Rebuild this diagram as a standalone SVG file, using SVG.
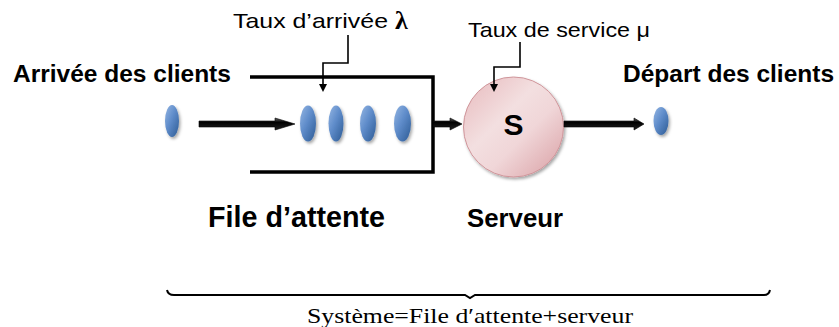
<svg xmlns="http://www.w3.org/2000/svg" width="839" height="327" viewBox="0 0 839 327">
<defs>
<linearGradient id="gEl" x1="0" y1="0" x2="1" y2="1">
<stop offset="0" stop-color="#94b6e3"/>
<stop offset="0.45" stop-color="#5f8cca"/>
<stop offset="1" stop-color="#2c5a94"/>
</linearGradient>
<linearGradient id="gCi" x1="0" y1="0" x2="1" y2="1">
<stop offset="0" stop-color="#e7b9bc"/>
<stop offset="0.4" stop-color="#f3dfe0"/>
<stop offset="0.6" stop-color="#f0d6d8"/>
<stop offset="1" stop-color="#d99ea3"/>
</linearGradient>
<linearGradient id="gAr" x1="0" y1="0" x2="0" y2="1">
<stop offset="0" stop-color="#6a6a6a"/>
<stop offset="0.35" stop-color="#000"/>
<stop offset="1" stop-color="#222"/>
</linearGradient>
<filter id="sh" x="-30%" y="-30%" width="160%" height="160%">
<feDropShadow dx="1.5" dy="2" stdDeviation="1.5" flood-color="#000" flood-opacity="0.35"/>
</filter>
<style>
.lbl{font-family:"Liberation Sans",Arial,sans-serif;fill:#000}
.b{font-weight:bold}
.el{fill:url(#gEl);filter:url(#sh)}
.arr{fill:url(#gAr);stroke:#000;stroke-width:0.6}
.ptr{fill:none;stroke:#000;stroke-width:1.6}
</style>
</defs>
<rect width="839" height="327" fill="#fff"/>

<g id="queue-box">
<path d="M250,77 H433 V172 H250" fill="none" stroke="#000" stroke-width="3.5"/>
</g>

<g id="clients">
<ellipse class="el" cx="172" cy="121" rx="7" ry="16"/>
<ellipse class="el" cx="308" cy="123.5" rx="8" ry="18"/>
<ellipse class="el" cx="336" cy="123.5" rx="7.5" ry="18"/>
<ellipse class="el" cx="368" cy="123.5" rx="8" ry="18"/>
<ellipse class="el" cx="402.5" cy="123.5" rx="8.5" ry="18"/>
<ellipse class="el" cx="661" cy="121" rx="7.5" ry="14"/>
</g>

<g id="server">
<circle cx="513.5" cy="127" r="50" fill="url(#gCi)" stroke="#cf959a" stroke-width="1" filter="url(#sh)"/>
<text class="lbl b" x="513.5" y="135" font-size="30" text-anchor="middle">S</text>
</g>

<g id="connectors">
<path class="arr" d="M199,121 H275 V118 L295,124 L275,130 V127 H199 Z"/>
<path class="arr" d="M433,121 H450 V118 L462,124 L450,130 V127 H433 Z"/>
<path class="arr" d="M564,121 H634 V118 L644,124 L634,130 V127 H564 Z"/>
<path class="ptr" d="M348,35 V63 H323 V90"/>
<path d="M319,84 L327,84 L323,92 Z" fill="#000"/>
<path class="ptr" d="M520,42 V67 H494 V90"/>
<path d="M490,84 L498,84 L494,92 Z" fill="#000"/>
</g>

<g id="labels">
<text class="lbl b" x="13" y="82" font-size="24.5">Arrivée des clients</text>
<text class="lbl b" x="623" y="82" font-size="24.5">Départ des clients</text>
<text class="lbl" x="233" y="28" font-size="21" textLength="155" lengthAdjust="spacingAndGlyphs">Taux d’arrivée</text>
<text x="395" y="29" font-size="26" font-weight="bold" font-family="'Liberation Serif','DejaVu Serif',serif">λ</text>
<text class="lbl" x="468" y="37" font-size="21" textLength="182" lengthAdjust="spacingAndGlyphs">Taux de service μ</text>
<text class="lbl b" x="208" y="227" font-size="29" textLength="177" lengthAdjust="spacingAndGlyphs">File d’attente</text>
<text class="lbl b" x="467" y="227" font-size="26" textLength="96" lengthAdjust="spacingAndGlyphs">Serveur</text>
</g>

<g id="system">
<path d="M167,290 Q168,295 174,295 H465 L470,298 L475,295 H764 Q769,295 770,290" fill="none" stroke="#000" stroke-width="2"/>
<text x="307" y="323" font-size="22" font-family="'Liberation Serif','Times New Roman',serif" textLength="326" lengthAdjust="spacingAndGlyphs">Système=File d′attente+serveur</text>
</g>
</svg>
